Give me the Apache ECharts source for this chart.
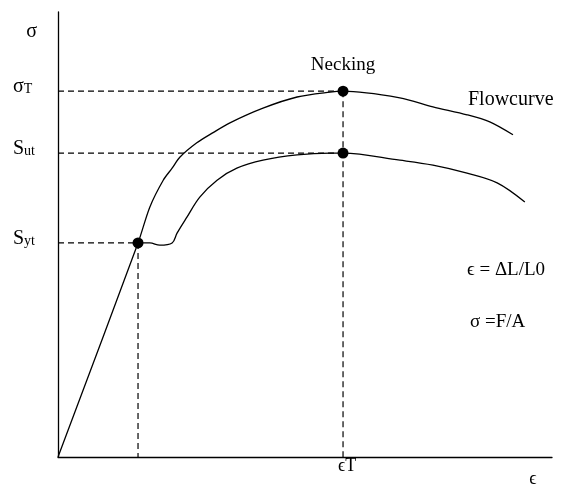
<!DOCTYPE html>
<html>
<head>
<meta charset="utf-8">
<script src="https://cdn.jsdelivr.net/npm/echarts@6.0.0/dist/echarts.min.js"></script>
<style>
  html, body { margin: 0; padding: 0; background: #ffffff; }
  #chart { width: 567px; height: 485px; }
</style>
</head>
<body>
<div id="chart"></div>
<script>
// true stress-strain (flow curve), starts with elastic line
var flowCurve = [
  [0, 0], [16.2, 48.1], [18.6, 56.2], [21.3, 62.2], [23.1, 64.9], [24.7, 67.4],
  [28.1, 70.6], [31.4, 72.9], [34.8, 75.1], [41.5, 78.4], [48.4, 80.9], [55.1, 82.0],
  [57.7, 82.2], [69.2, 80.7], [75.9, 78.7], [82.8, 76.9], [87.4, 75.3], [92.1, 72.4]
]
// engineering curve, from the yield point on
var engCurve = [
  [16.2, 48.1], [18.6, 48.1], [20.6, 47.6], [23.1, 48.1], [24.1, 50.3],
  [26.1, 53.9], [28.7, 58.4], [32.2, 62.2], [36.2, 64.9], [41.5, 66.7],
  [48.4, 67.9], [55.1, 68.3], [57.7, 68.3], [69.2, 66.7], [75.9, 65.6],
  [82.8, 63.8], [88.9, 61.6], [94.5, 57.3]
]
var yieldPt = [16.2, 48.1]
var neckTop = [57.7, 82.2]
var neckLow = [57.7, 68.3]

var yTickValues = [yieldPt[1], neckLow[1], neckTop[1]]
var yTickLabels = ['S{s|yt}', 'S{s|ut}', 'σ{s|T}']
var xTickValues = [neckTop[0]]
var xTickLabels = ['ϵT']

var serif = '"Liberation Serif", "DejaVu Serif", serif'

var dashStyle = { color: '#000', width: 1.2, type: [6, 4] }

function dashLine (pts) {
  return {
    type: 'line',
    data: pts,
    symbol: 'none',
    silent: true,
    lineStyle: dashStyle,
    z: 1
  }
}

var myChart = echarts.init(document.getElementById('chart'))
var option = {
  backgroundColor: '#ffffff',
  animation: false,
  grid: { left: 58, right: 15, top: 12, bottom: 28, outerBoundsMode: 'none' },
  xAxis: {
    type: 'value',
    min: 0,
    max: 100,
    name: 'ϵ',
    nameLocation: 'end',
    nameGap: -19,
    nameTextStyle: { fontFamily: serif, fontSize: 18, color: '#000', align: 'center', verticalAlign: 'top', padding: [13, 0, 0, 0] },
    axisLine: { lineStyle: { color: '#000', width: 1.3 } },
    axisTick: { show: false },
    splitLine: { show: false },
    axisLabel: {
      customValues: xTickValues,
      margin: 0,
      color: '#000',
      fontFamily: serif,
      fontSize: 18,
      verticalAlign: 'top',
      padding: [0, 0, 0, 8],
      formatter: function (v) {
        return xTickLabels[xTickValues.indexOf(v)]
      }
    }
  },
  yAxis: {
    type: 'value',
    min: 0,
    max: 100,
    name: 'σ',
    nameLocation: 'end',
    nameGap: -20,
    nameTextStyle: { fontFamily: serif, fontSize: 20, color: '#000', align: 'right', verticalAlign: 'middle', padding: [0, 21, 0, 0] },
    axisLine: { lineStyle: { color: '#000', width: 1.3 } },
    axisTick: { show: false },
    splitLine: { show: false },
    axisLabel: {
      customValues: yTickValues,
      margin: 45,
      align: 'left',
      verticalAlign: 'bottom',
      color: '#000',
      fontFamily: serif,
      fontSize: 20,
      lineHeight: 8,
      formatter: function (v) {
        return yTickLabels[yTickValues.indexOf(v)]
      },
      rich: {
        s: { fontFamily: serif, fontSize: 14, color: '#000', verticalAlign: 'middle', lineHeight: 8, padding: [4, 0, 0, 0] }
      }
    }
  },
  series: [
    dashLine([[0, neckTop[1]], neckTop]),
    dashLine([[0, neckLow[1]], neckLow]),
    dashLine([[0, yieldPt[1]], yieldPt]),
    dashLine([yieldPt, [yieldPt[0], 0]]),
    dashLine([neckTop, [neckTop[0], 0]]),
    {
      type: 'line',
      data: flowCurve,
      symbol: 'none',
      smooth: 0.3,
      lineStyle: { color: '#000', width: 1.3 },
      z: 2
    },
    {
      type: 'line',
      data: engCurve,
      symbol: 'none',
      smooth: 0.35,
      lineStyle: { color: '#000', width: 1.3 },
      z: 2
    },
    {
      type: 'scatter',
      symbolSize: 11,
      itemStyle: { color: '#000', opacity: 1 },
      z: 3,
      data: [
        { value: neckTop, label: { show: true, position: 'top', distance: 11, formatter: 'Necking', color: '#000', opacity: 1, fontFamily: serif, fontSize: 19 } },
        neckLow,
        yieldPt
      ]
    }
  ],
  graphic: [
    { type: 'text', left: 468, top: 90, style: { text: 'Flowcurve', fill: '#000', font: '20px ' + serif } },
    { type: 'text', left: 467, top: 261, style: { text: 'ϵ = ΔL/L0', fill: '#000', font: '19px ' + serif } },
    { type: 'text', left: 470, top: 313, style: { text: 'σ =F/A', fill: '#000', font: '19px ' + serif } }
  ]
}
myChart.setOption(option)
</script>
</body>
</html>
